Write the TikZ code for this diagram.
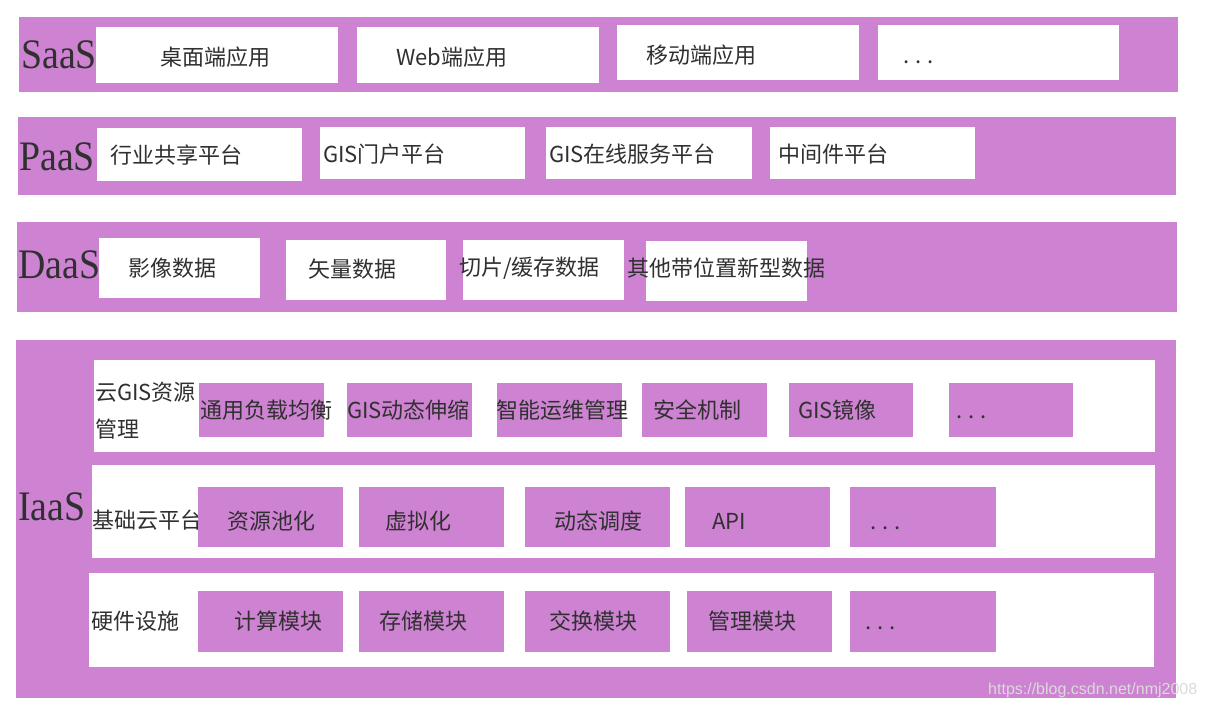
\documentclass[tikz,border=0pt]{standalone}
\usepackage{fontspec}
\setmainfont{Liberation Serif}
\newfontfamily\cjk{Noto Sans CJK SC}
\newfontfamily\layerfont[FakeStretch=0.9]{Liberation Serif}
\newfontfamily\wmfont{Liberation Sans}
\usetikzlibrary{positioning}
\definecolor{layerpurple}{RGB}{205,130,210}
\definecolor{inkgray}{RGB}{48,48,48}
\newcommand{\moredots}{.\kern6pt.\kern6pt.}

\begin{document}
\begin{tikzpicture}[
    x=1pt, y=-1pt,
    layer/.style={fill=layerpurple, anchor=north west, inner sep=0pt},
    wbox/.style={fill=white, anchor=north west, inner sep=0pt},
    pbox/.style={fill=layerpurple, anchor=north west, inner sep=0pt},
    lbl/.style={anchor=west, inner sep=0pt, text=inkgray, font=\cjk\fontsize{22}{26}\selectfont},
    big/.style={anchor=west, inner sep=0pt, text=inkgray, font=\layerfont\fontsize{42}{44}\selectfont},
]
  \useasboundingbox[fill=white] (0,0) rectangle (1206,710);

  % SaaS
  \node[layer, minimum width=1159pt, minimum height=75pt] (saas) at (19,17) {};
  \node[big] (saas-l) at (21,55) {SaaS};
  \node[wbox, minimum width=242pt, minimum height=56pt] (desk) at (96,27) {};
  \node[wbox, minimum width=242pt, minimum height=56pt] (web) at (357,27) {};
  \node[wbox, minimum width=242pt, minimum height=55pt] (mobile) at (617,25) {};
  \node[wbox, minimum width=241pt, minimum height=55pt] (sdots) at (878,25) {};
  \node[lbl] (desk-t) at (160,57) {桌面端应用};
  \node[lbl] (web-t) at (396,57) {Web端应用};
  \node[lbl] (mobile-t) at (646,55) {移动端应用};
  \node[lbl] (sdots-t) at (903,62) {\moredots};

  % PaaS
  \node[layer, minimum width=1158pt, minimum height=78pt] (paas) at (18,117) {};
  \node[big] (paas-l) at (19,157) {PaaS};
  \node[wbox, minimum width=205pt, minimum height=53pt] (trade) at (97,128) {};
  \node[wbox, minimum width=205pt, minimum height=52pt] (portal) at (320,127) {};
  \node[wbox, minimum width=206pt, minimum height=52pt] (online) at (546,127) {};
  \node[wbox, minimum width=205pt, minimum height=52pt] (middle) at (770,127) {};
  \node[lbl] (trade-t) at (110,155) {行业共享平台};
  \node[lbl] (portal-t) at (323,154) {GIS门户平台};
  \node[lbl] (online-t) at (549,154) {GIS在线服务平台};
  \node[lbl] (middle-t) at (778,154) {中间件平台};

  % DaaS
  \node[layer, minimum width=1160pt, minimum height=90pt] (daas) at (17,222) {};
  \node[big] (daas-l) at (18,265) {DaaS};
  \node[wbox, minimum width=161pt, minimum height=60pt] (image) at (99,238) {};
  \node[wbox, minimum width=160pt, minimum height=60pt] (vector) at (286,240) {};
  \node[wbox, minimum width=161pt, minimum height=60pt] (tile) at (463,240) {};
  \node[wbox, minimum width=161pt, minimum height=60pt] (other) at (646,241) {};
  \node[lbl] (image-t) at (128,268) {影像数据};
  \node[lbl] (vector-t) at (308,269) {矢量数据};
  \node[lbl] (tile-t) at (459,268) {切片/缓存数据};
  \node[lbl] (other-t) at (627,268) {其他带位置新型数据};

  % IaaS
  \node[layer, minimum width=1160pt, minimum height=358pt] (iaas) at (16,340) {};
  \node[big] (iaas-l) at (18,507) {IaaS};
  \node[wbox, minimum width=1061pt, minimum height=92pt] (cloudrow) at (94,360) {};
  \node[wbox, minimum width=1063pt, minimum height=93pt] (baserow) at (92,465) {};
  \node[wbox, minimum width=1065pt, minimum height=94pt] (hwrow) at (89,573) {};
  \node[lbl, align=left, font=\cjk\fontsize{22}{37}\selectfont] (cloudrow-l) at (95,411) {云GIS资源\\管理};
  \node[lbl] (baserow-l) at (92,520) {基础云平台};
  \node[lbl] (hwrow-l) at (91,621) {硬件设施};

  % cloud GIS resource management
  \node[pbox, minimum width=125pt, minimum height=54pt] (balance) at (199,383) {};
  \node[pbox, minimum width=125pt, minimum height=54pt] (scaling) at (347,383) {};
  \node[pbox, minimum width=125pt, minimum height=54pt] (ops) at (497,383) {};
  \node[pbox, minimum width=125pt, minimum height=54pt] (security) at (642,383) {};
  \node[pbox, minimum width=124pt, minimum height=54pt] (mirror) at (789,383) {};
  \node[pbox, minimum width=124pt, minimum height=54pt] (cdots) at (949,383) {};
  \node[lbl] (balance-t) at (200,410) {通用负载均衡};
  \node[lbl] (scaling-t) at (347,410) {GIS动态伸缩};
  \node[lbl] (ops-t) at (496,410) {智能运维管理};
  \node[lbl] (security-t) at (653,410) {安全机制};
  \node[lbl] (mirror-t) at (798,410) {GIS镜像};
  \node[lbl] (cdots-t) at (956,417) {\moredots};

  % base cloud platform
  \node[pbox, minimum width=145pt, minimum height=60pt] (pool) at (198,487) {};
  \node[pbox, minimum width=145pt, minimum height=60pt] (virt) at (359,487) {};
  \node[pbox, minimum width=145pt, minimum height=60pt] (sched) at (525,487) {};
  \node[pbox, minimum width=145pt, minimum height=60pt] (api) at (685,487) {};
  \node[pbox, minimum width=146pt, minimum height=60pt] (bdots) at (850,487) {};
  \node[lbl] (pool-t) at (227,521) {资源池化};
  \node[lbl] (virt-t) at (385,521) {虚拟化};
  \node[lbl] (sched-t) at (554,521) {动态调度};
  \node[lbl] (api-t) at (712,521) {API};
  \node[lbl] (bdots-t) at (870,528) {\moredots};

  % hardware
  \node[pbox, minimum width=145pt, minimum height=61pt] (compute) at (198,591) {};
  \node[pbox, minimum width=145pt, minimum height=61pt] (storage) at (359,591) {};
  \node[pbox, minimum width=145pt, minimum height=61pt] (switch) at (525,591) {};
  \node[pbox, minimum width=145pt, minimum height=61pt] (manage) at (687,591) {};
  \node[pbox, minimum width=146pt, minimum height=61pt] (hdots) at (850,591) {};
  \node[lbl] (compute-t) at (234,621) {计算模块};
  \node[lbl] (storage-t) at (379,621) {存储模块};
  \node[lbl] (switch-t) at (549,621) {交换模块};
  \node[lbl] (manage-t) at (708,621) {管理模块};
  \node[lbl] (hdots-t) at (865,628) {\moredots};

  \node[anchor=west, inner sep=0pt, text=white!86!black, font=\wmfont\fontsize{16}{18}\selectfont] (mark) at (988,690) {https://blog.csdn.net/nmj2008};
\end{tikzpicture}
\end{document}
